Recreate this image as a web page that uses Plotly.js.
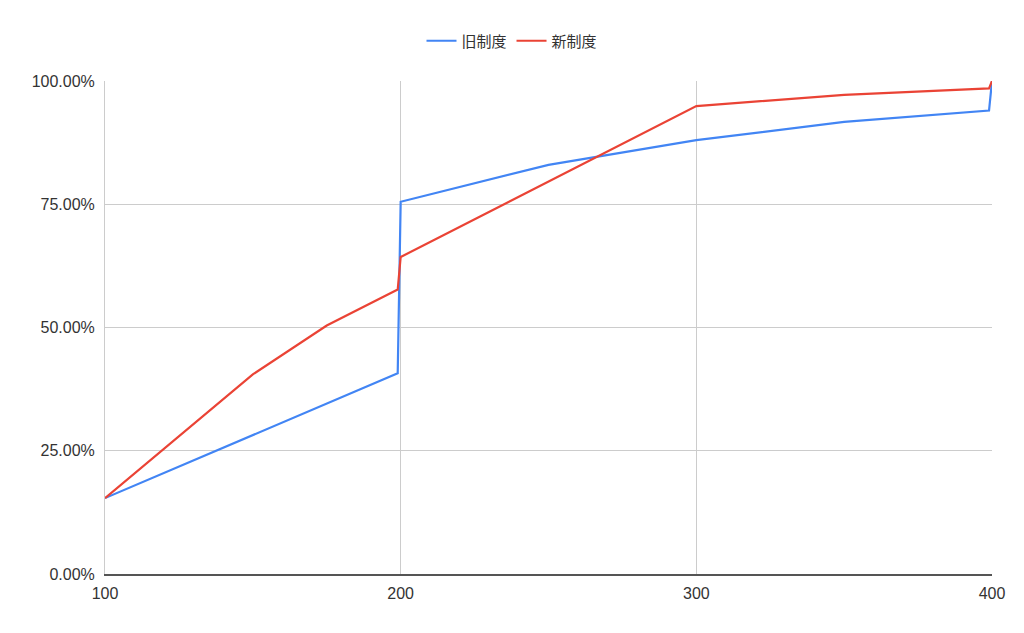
<!DOCTYPE html>
<html>
<head>
<meta charset="utf-8">
<script src="https://cdn.plot.ly/plotly-3.0.1.min.js"></script>
<style>html,body{margin:0;padding:0;background:#fff;}#chart{width:1024px;height:633px;}</style>
</head>
<body>
<div id="chart"></div>
<script>
const oldName = "旧制度";
const newName = "新制度";
const oldX = [100, 199, 200, 250, 300, 350, 399, 400];
const oldY = [0.154, 0.407, 0.755, 0.830, 0.880, 0.917, 0.940, 1.0];
const newX = [100, 150, 175, 199, 200, 300, 350, 399, 400];
const newY = [0.154, 0.405, 0.504, 0.577, 0.643, 0.949, 0.972, 0.985, 1.0];
const xTicks = [100, 200, 300, 400];
const yTicks = [0, 0.25, 0.5, 0.75, 1.0];

const font = "Arial, 'Liberation Sans', 'Noto Sans CJK JP', sans-serif";
const traces = [
  {x: oldX, y: oldY, name: oldName, type: 'scatter', mode: 'lines',
   line: {color: '#4285F4', width: 2.2}},
  {x: newX, y: newY, name: newName, type: 'scatter', mode: 'lines',
   line: {color: '#EA4335', width: 2.2}}
];
const layout = {
  width: 1024, height: 633,
  margin: {l: 105, r: 32, t: 81, b: 59},
  paper_bgcolor: '#fff', plot_bgcolor: '#fff',
  font: {family: font, size: 16, color: '#333'},
  showlegend: true,
  legend: {orientation: 'h', x: 0.5, xanchor: 'center', xref: 'container',
           y: 1 - 41/633, yanchor: 'middle', yref: 'container', itemwidth: 30,
           font: {family: "'Noto Sans CJK JP', sans-serif", size: 15, color: '#333'}},
  xaxis: {range: [100, 400], tickvals: xTicks, ticktext: xTicks.map(String),
          showgrid: true, gridcolor: '#cccccc', gridwidth: 1, zeroline: false,
          showline: true, linecolor: '#555', linewidth: 2, ticks: '', fixedrange: true,
          ticklabelstandoff: 4,
          tickfont: {size: 16, color: '#333'}},
  yaxis: {range: [0, 1.0], tickvals: yTicks, tickformat: '.2%',
          showgrid: true, gridcolor: '#cccccc', gridwidth: 1, zeroline: false,
          showline: true, linecolor: '#cccccc', linewidth: 1, ticks: '', fixedrange: true,
          ticklabelstandoff: 6,
          tickfont: {size: 16, color: '#333'}}
};
Plotly.newPlot('chart', traces, layout, {displayModeBar: false, staticPlot: true});
</script>
</body>
</html>
